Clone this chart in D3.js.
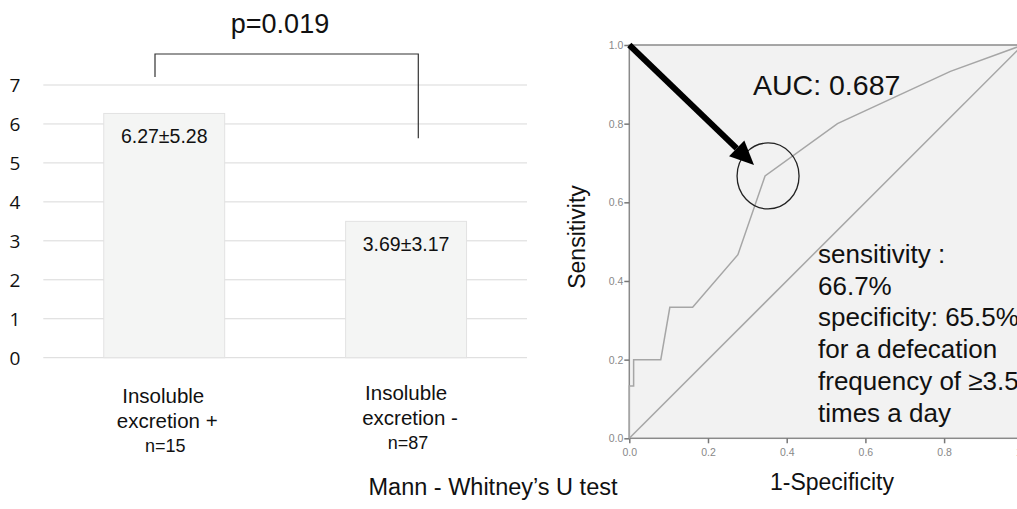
<!DOCTYPE html>
<html>
<head>
<meta charset="utf-8">
<script src="https://cdn.jsdelivr.net/npm/d3@7"></script>
<style>
  body { margin: 0; background: #fff; }
  svg { display: block; }
  text { font-family: "Liberation Sans", Arial, sans-serif; }
</style>
</head>
<body>
<svg id="chart" width="1017" height="509"></svg>
<script>
// bar chart data
var groups = ['plus', 'minus'];
var groupLines = [['Insoluble', 'excretion +'], ['Insoluble', 'excretion -']];
var groupN = ['n=15', 'n=87'];
var barValues = [6.27, 3.5];
var barLabels = ['6.27\u00b15.28', '3.69\u00b13.17'];
var yTicks = [0, 1, 2, 3, 4, 5, 6, 7];

// ROC curve data (1-specificity, sensitivity)
var rocFpr = [0, 0, 0.011, 0.011, 0.080, 0.103, 0.161, 0.276, 0.345, 0.529, 0.816, 1];
var rocTpr = [0, 0.133, 0.133, 0.2, 0.2, 0.333, 0.333, 0.467, 0.667, 0.8, 0.933, 1];
var cutPoint = [0.345, 0.667];
var rocTicks = [0, 0.2, 0.4, 0.6, 0.8, 1.0];
var noteLines = ['sensitivity :', '66.7%', 'specificity: 65.5%', 'for a defecation', 'frequency of \u22653.5', 'times a day'];

var svg = d3.select('#chart');

drawBars();
drawRoc();

function drawBars() {
  var x = d3.scaleBand().domain(groups).range([43.3, 527]).paddingInner(0.5).paddingOuter(0.25);
  var y = d3.scaleLinear().domain([0, 7]).range([357.7, 85]);

  var g = svg.append('g');

  g.selectAll('line.grid').data(yTicks).enter().append('line')
    .attr('class', 'grid')
    .attr('x1', 43.3).attr('x2', 527)
    .attr('y1', function (d) { return y(d); })
    .attr('y2', function (d) { return y(d); })
    .attr('stroke', '#d9d9d9').attr('stroke-width', 1);

  g.selectAll('text.ytick').data(yTicks).enter().append('text')
    .attr('class', 'ytick')
    .attr('x', 15).attr('y', function (d) { return y(d); })
    .attr('dy', '0.36em').attr('text-anchor', 'middle')
    .style('font-family', '"Open Sans", sans-serif')
    .style('font-size', '19px').attr('fill', '#111')
    .text(function (d) { return d; });

  g.selectAll('rect.bar').data(barValues).enter().append('rect')
    .attr('class', 'bar')
    .attr('x', function (d, i) { return x(groups[i]); })
    .attr('y', function (d) { return y(d); })
    .attr('width', x.bandwidth())
    .attr('height', function (d) { return y(0) - y(d); })
    .attr('fill', '#f4f5f4').attr('stroke', '#e2e2e2').attr('stroke-width', 1);

  g.selectAll('text.blabel').data(barValues).enter().append('text')
    .attr('class', 'blabel')
    .attr('x', function (d, i) { return x(groups[i]) + x.bandwidth() / 2; })
    .attr('y', function (d) { return y(d) + 30; })
    .attr('text-anchor', 'middle')
    .style('font-size', '19.5px').attr('fill', '#111')
    .text(function (d, i) { return barLabels[i]; });

  // category labels
  groups.forEach(function (k, i) {
    var cx = x(k) + x.bandwidth() / 2 + (i == 0 ? -1 : 0);
    var base = i == 0 ? 403 : 400;
    g.append('text').attr('x', cx).attr('y', base).attr('text-anchor', 'middle')
      .style('font-size', '20.5px').attr('fill', '#111').text(groupLines[i][0]);
    g.append('text').attr('x', cx + 4).attr('y', base + 25).attr('text-anchor', 'middle')
      .style('font-size', '20.5px').attr('fill', '#111').text(groupLines[i][1]);
    g.append('text').attr('x', cx + 2).attr('y', base + 49).attr('text-anchor', 'middle')
      .style('font-size', '18px').attr('fill', '#111').text(groupN[i]);
  });

  // significance bracket
  g.append('path')
    .attr('d', 'M155,77 V54 H418.3 V138.3')
    .attr('fill', 'none').attr('stroke', '#333').attr('stroke-width', 1.2);
  g.append('text').attr('x', 280).attr('y', 33).attr('text-anchor', 'middle')
    .style('font-size', '27px').attr('fill', '#111').text('p=0.019');

  g.append('text').attr('x', 493).attr('y', 495).attr('text-anchor', 'middle')
    .style('font-size', '23.5px').attr('fill', '#111').text('Mann - Whitney\u2019s U test');
}

function drawRoc() {
  var x = d3.scaleLinear().domain([0, 1]).range([629.3, 1022.8]);
  var y = d3.scaleLinear().domain([0, 1]).range([438.3, 45]);

  var g = svg.append('g');

  g.append('rect')
    .attr('x', x(0)).attr('y', y(1))
    .attr('width', x(1) - x(0)).attr('height', y(0) - y(1))
    .attr('fill', '#f2f2f2').attr('stroke', '#8a8a8a').attr('stroke-width', 1.5);

  var xAxis = d3.axisBottom(x).tickValues(rocTicks).tickFormat(d3.format('.1f')).tickSize(5).tickSizeOuter(0);
  var yAxis = d3.axisLeft(y).tickValues(rocTicks).tickFormat(d3.format('.1f')).tickSize(5).tickSizeOuter(0);

  var gx = g.append('g').attr('transform', 'translate(0,' + y(0) + ')').call(xAxis);
  var gy = g.append('g').attr('transform', 'translate(' + x(0) + ',0)').call(yAxis);
  [gx, gy].forEach(function (a) {
    a.select('.domain').remove();
    a.selectAll('line').attr('stroke', '#777').attr('stroke-width', 1.5);
    a.selectAll('text').attr('fill', '#888').style('font-size', '10.5px')
      .style('font-family', '"Liberation Sans", Arial, sans-serif');
  });
  gy.selectAll('text').attr('x', -6);
  gx.selectAll('text').attr('y', 10);

  // reference diagonal
  g.append('line')
    .attr('x1', x(0)).attr('y1', y(0)).attr('x2', x(1)).attr('y2', y(1))
    .attr('stroke', '#a6a6a6').attr('stroke-width', 1.5);

  var line = d3.line()
    .x(function (d, i) { return x(rocFpr[i]); })
    .y(function (d, i) { return y(rocTpr[i]); });
  g.append('path').datum(rocFpr)
    .attr('d', line)
    .attr('fill', 'none').attr('stroke', '#a6a6a6').attr('stroke-width', 1.5);

  // circle around the cut-off point
  g.append('ellipse')
    .attr('cx', x(cutPoint[0]) + 3).attr('cy', y(cutPoint[1]))
    .attr('rx', 31).attr('ry', 33)
    .attr('fill', 'none').attr('stroke', '#222').attr('stroke-width', 1.3);

  // arrow from top-left corner
  var x0 = x(0), y0 = y(1), tx = 754, ty = 165;
  var ang = Math.atan2(ty - y0, tx - x0);
  var hl = 24, hw = 11;
  var bx = tx - hl * Math.cos(ang), by = ty - hl * Math.sin(ang);
  g.append('line')
    .attr('x1', x0).attr('y1', y0).attr('x2', bx).attr('y2', by)
    .attr('stroke', '#000').attr('stroke-width', 6);
  var px = -Math.sin(ang), py = Math.cos(ang);
  g.append('path')
    .attr('d', 'M' + tx + ',' + ty +
      ' L' + (bx + px * hw) + ',' + (by + py * hw) +
      ' L' + (bx - px * hw) + ',' + (by - py * hw) + ' Z')
    .attr('fill', '#000');

  g.append('text').attr('x', 753).attr('y', 95)
    .style('font-size', '28.5px').attr('fill', '#111').text('AUC: 0.687');

  g.selectAll('text.note').data(noteLines).enter().append('text')
    .attr('class', 'note')
    .attr('x', 818).attr('y', function (d, i) { return 263 + i * 31.7; })
    .style('font-size', '26px').attr('fill', '#111')
    .text(function (d) { return d; });

  g.append('text')
    .attr('transform', 'translate(585,237) rotate(-90)')
    .attr('text-anchor', 'middle')
    .style('font-size', '23px').attr('fill', '#111').text('Sensitivity');

  g.append('text').attr('x', 832).attr('y', 490).attr('text-anchor', 'middle')
    .style('font-size', '23px').attr('fill', '#111').text('1-Specificity');
}
</script>
</body>
</html>
